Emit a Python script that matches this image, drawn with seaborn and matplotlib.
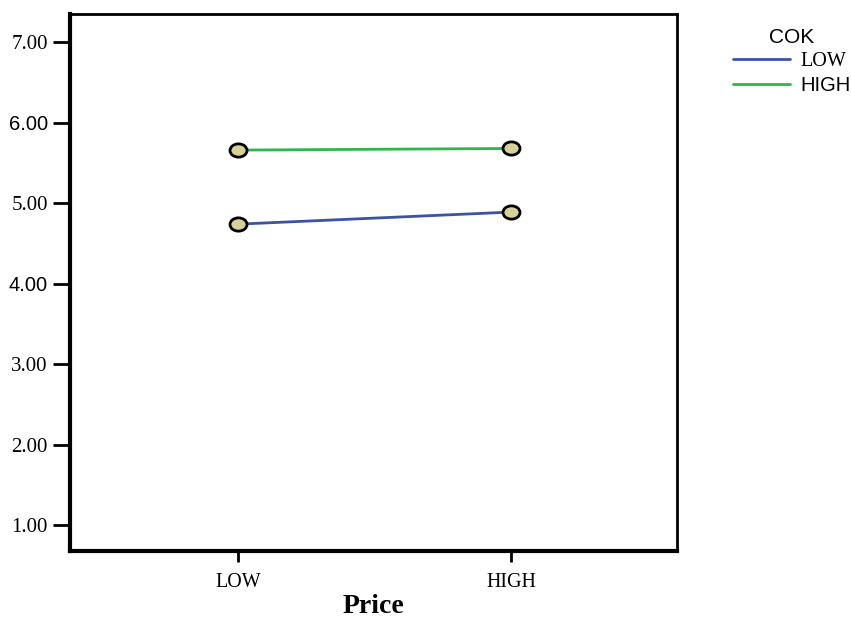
import numpy as np
import pandas as pd
import matplotlib
matplotlib.use("Agg")
import matplotlib.pyplot as plt
from matplotlib.path import Path
import seaborn as sns

# data
price_levels = ["LOW", "HIGH"]
cok_levels = ["LOW", "HIGH"]
mean_cok_low = [4.74, 4.89]
mean_cok_high = [5.66, 5.68]
y_ticks = [1, 2, 3, 4, 5, 6, 7]

df = pd.DataFrame({
    "Price": price_levels * 2,
    "COK": [cok_levels[0]] * 2 + [cok_levels[1]] * 2,
    "mean": mean_cok_low + mean_cok_high,
})
df["x"] = df["Price"].map({p: i for i, p in enumerate(price_levels)})

sns.set_style("white")
plt.rcParams["text.color"] = "black"
fig = plt.figure(figsize=(8.51, 6.18), dpi=100)
ax = fig.add_axes([0.0823, 0.1084, 0.7132, 0.8689])

# slightly flattened circle, like the SPSS marker
circ = Path.unit_circle()
ellipse = Path(circ.vertices * np.array([1.0, 0.78]), circ.codes)

palette = {"LOW": "#3c53a4", "HIGH": "#2cb84a"}
sns.lineplot(data=df, x="x", y="mean", hue="COK", hue_order=cok_levels,
             palette=palette, linewidth=2, ax=ax, legend=False, zorder=2)
ax.scatter(df["x"], df["mean"], s=150, marker=ellipse, facecolor="#d6d19a",
           edgecolor="black", linewidth=2, zorder=3)

ax.set_xlim(-0.615, 1.608)
ax.set_ylim(0.68, 7.35)
ax.set_xticks(range(len(price_levels)))
ax.set_xticklabels(price_levels, family="Liberation Serif", fontsize=14.4)
ax.set_yticks(y_ticks)
ax.set_yticklabels([f"{v:.2f}" for v in y_ticks], family="Liberation Serif", fontsize=15)
for lab in ax.get_yticklabels():
    if lab.get_text() in ("4.00", "6.00"):
        lab.set_family("Liberation Sans")
        lab.set_fontsize(14.5)

ax.set_xlabel("Price", family="Liberation Serif", fontsize=20, fontweight="bold",
              labelpad=1, color="black")
ax.set_ylabel("")
ax.tick_params(axis="y", left=True, length=12, width=2, pad=4, colors="black")
ax.tick_params(axis="x", bottom=True, length=8, width=2, pad=8, colors="black")
for side in ["top", "right"]:
    ax.spines[side].set_linewidth(2)
for side in ["left", "bottom"]:
    ax.spines[side].set_linewidth(3)
for sp in ax.spines.values():
    sp.set_color("black")

# legend drawn outside the plot area
handles = [plt.Line2D([0], [0], color=palette[c], linewidth=2) for c in cok_levels]
leg = fig.legend(handles, cok_levels, title="COK", loc="upper left",
                 bbox_to_anchor=(0.8613, 0.955), frameon=False,
                 borderpad=0, borderaxespad=0,
                 handlelength=2.85, handletextpad=0.5, labelspacing=0.25,
                 fontsize=14.5, title_fontsize=15)
leg.get_title().set_family("Liberation Sans")
leg.texts[0].set_family("Liberation Serif")
leg.texts[1].set_family("Liberation Sans")
for t in leg.texts + [leg.get_title()]:
    t.set_color("black")

fig.savefig("out.png", dpi=100)
